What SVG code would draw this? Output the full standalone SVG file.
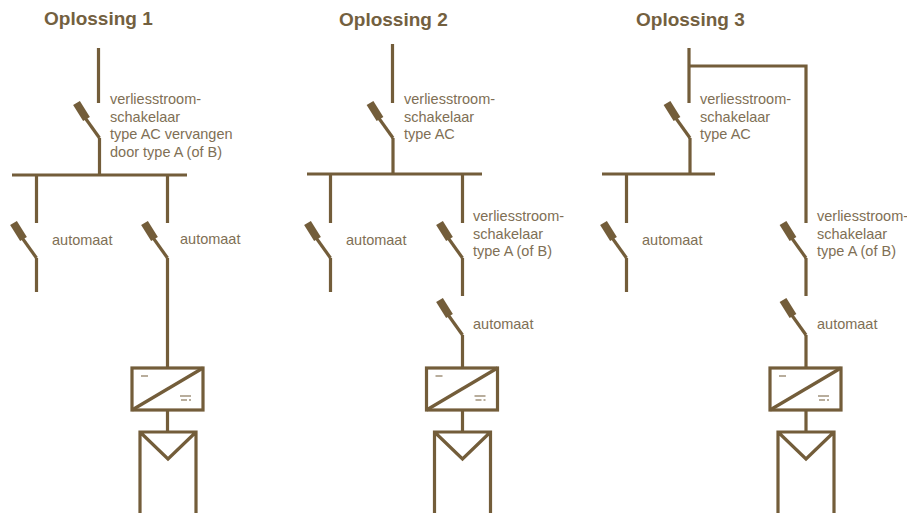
<svg xmlns="http://www.w3.org/2000/svg" width="907" height="513" viewBox="0 0 907 513">
<style>
.w{fill:none;stroke:#735d3a;stroke-width:3.2}
.h{fill:none;stroke:#735d3a;stroke-width:8}
text{font-family:"Liberation Sans",Arial,sans-serif;font-size:14.5px;fill:#806f55}
.title{font-size:19px;font-weight:bold;fill:#73603f}
</style>
<defs>
<g id="sw"><path class="w" d="M0 0L-20-28"/><path class="h" d="M-23-35L-13-19"/></g>
<g id="inv"><rect class="w" x="0" y="0" width="71" height="42"/><path class="w" d="M0 42L71 0"/><path d="M9 8h7M48 28h11M49 32h6M57 32h2" fill="none" stroke="#735d3a" stroke-width="1.2"/></g>
<g id="pv"><path class="w" d="M0 81V0H56V81M0 0L28 27L56 0"/></g>
</defs>
<rect width="907" height="513" fill="#fff"/>
<g id="titles">
<text class="title" x="44" y="25">Oplossing 1</text>
<text class="title" x="339" y="26">Oplossing 2</text>
<text class="title" x="636" y="26">Oplossing 3</text>
</g>
<g id="connectors">
<path class="w" d="M98.500 48V103M99.500 138V175M12 175H187M36.500 175V223M36.500 258V292M167.500 175V223M167.500 258V368M167.500 410V432"/>
<path class="w" d="M392.500 44V103M393 138V174M307 174H482M330.500 174V223M330.500 258V292M462.500 174V223M462.500 258V296M462.500 335V368M462.500 410V432"/>
<path class="w" d="M689 48V103M689 66H806V223M690 138V174M602 174H715M626.500 174V223M626.500 258V292M806 258V296M806 335V368M806 410V432"/>
</g>
<g id="solution1">
<g id="s1-rcd"><use href="#sw" x="99.500" y="138"/><text x="110" y="104">verliesstroom-</text><text x="110" y="122">schakelaar</text><text x="110" y="139">type AC vervangen</text><text x="110" y="157">door type A (of B)</text></g>
<g id="s1-mcb1"><use href="#sw" x="36.500" y="258"/><text x="52" y="245">automaat</text></g>
<g id="s1-mcb2"><use href="#sw" x="167.500" y="258"/><text x="180" y="244">automaat</text></g>
<g id="s1-inverter"><use href="#inv" x="132" y="368"/></g>
<g id="s1-panel"><use href="#pv" x="140" y="432"/></g>
</g>
<g id="solution2">
<g id="s2-rcd"><use href="#sw" x="393" y="138"/><text x="404" y="104">verliesstroom-</text><text x="404" y="122">schakelaar</text><text x="404" y="139">type AC</text></g>
<g id="s2-mcb1"><use href="#sw" x="330.500" y="258"/><text x="346" y="245">automaat</text></g>
<g id="s2-rcd2"><use href="#sw" x="462.500" y="258"/><text x="473" y="221">verliesstroom-</text><text x="473" y="239">schakelaar</text><text x="473" y="256">type A (of B)</text></g>
<g id="s2-mcb2"><use href="#sw" x="462.500" y="335"/><text x="473" y="329">automaat</text></g>
<g id="s2-inverter"><use href="#inv" x="426.500" y="368"/></g>
<g id="s2-panel"><use href="#pv" x="434.500" y="432"/></g>
</g>
<g id="solution3">
<g id="s3-rcd"><use href="#sw" x="690" y="138"/><text x="700" y="104">verliesstroom-</text><text x="700" y="122">schakelaar</text><text x="700" y="139">type AC</text></g>
<g id="s3-mcb1"><use href="#sw" x="626.500" y="258"/><text x="642" y="245">automaat</text></g>
<g id="s3-rcd2"><use href="#sw" x="806" y="258"/><text x="817" y="221">verliesstroom-</text><text x="817" y="239">schakelaar</text><text x="817" y="256">type A (of B)</text></g>
<g id="s3-mcb2"><use href="#sw" x="806" y="335"/><text x="817" y="329">automaat</text></g>
<g id="s3-inverter"><use href="#inv" x="770" y="368"/></g>
<g id="s3-panel"><use href="#pv" x="778" y="432"/></g>
</g>
</svg>
